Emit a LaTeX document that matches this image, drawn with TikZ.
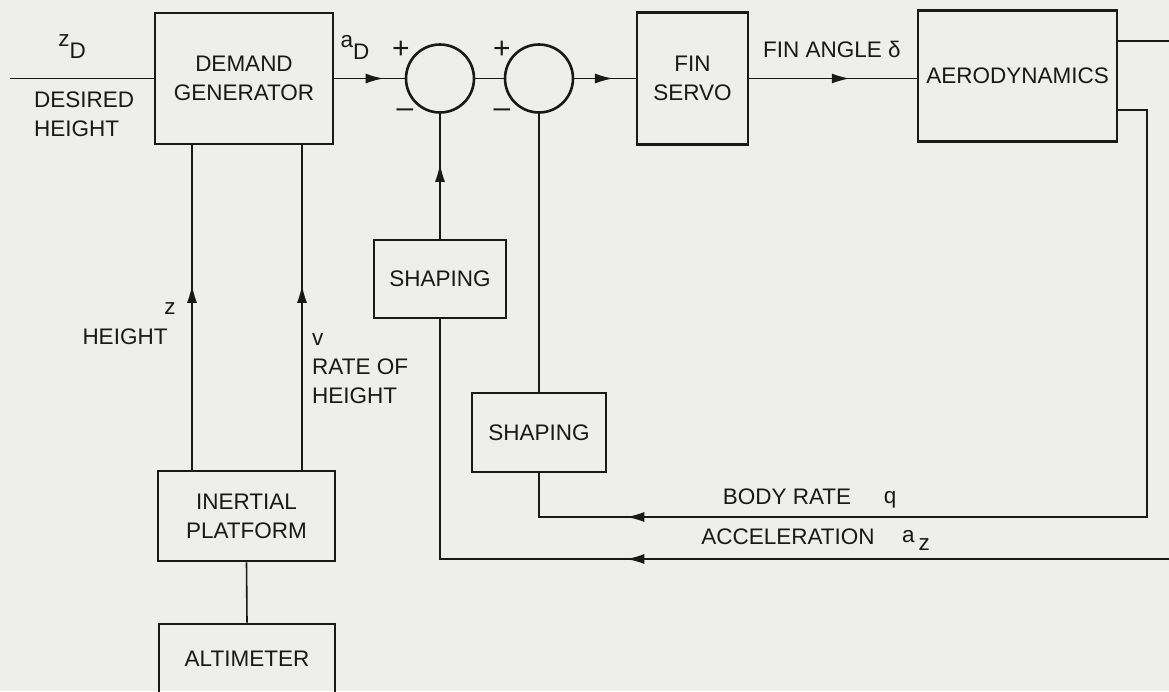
\documentclass[tikz,border=0pt]{standalone}
\usepackage{fontspec}
\setmainfont{Liberation Sans}
\usetikzlibrary{arrows.meta,decorations.markings}
\definecolor{paper}{RGB}{238,238,235}
\definecolor{ink}{RGB}{25,25,25}
\newcommand\dfont{\fontsize{22.5}{29}\selectfont}
\newcommand\sgnfont{\fontsize{30}{30}\selectfont}
\begin{document}
\begin{tikzpicture}[x=1pt,y=-1pt,
  every node/.style={text=ink,font=\dfont},
  blk/.style={draw=ink,line width=2.6pt,inner sep=0pt,align=center},
  sumj/.style={draw=ink,circle,line width=2.6pt,minimum size=68pt,inner sep=0pt},
  conn/.style={draw=ink,line width=1.6pt},
  midarr/.style={postaction={decorate},decoration={markings,mark=at position #1 with {\arrow[ink]{Latex[length=18pt,width=10pt]}}}},
  lbl/.style={inner sep=0pt,align=left},
  sgn/.style={inner sep=0pt,font=\sgnfont}
]
\fill[paper] (0,0) rectangle (1169,691);
\clip (0,0) rectangle (1169,691);

% blocks
\node[blk,minimum width=178pt,minimum height=131pt] (DG) at (244,78.5) {DEMAND\\GENERATOR};
\node[sumj] (S1) at (440,78.5) {};
\node[sumj] (S2) at (539,78.5) {};
\node[blk,minimum width=111pt,minimum height=132pt] (FS) at (692.5,78.5) {FIN\\SERVO};
\node[blk,minimum width=199pt,minimum height=131pt] (AERO) at (1017.5,76) {AERODYNAMICS};
\node[blk,minimum width=132pt,minimum height=78pt] (SH1) at (440,279) {SHAPING};
\node[blk,minimum width=134pt,minimum height=79pt] (SH2) at (539,432.5) {SHAPING};
\node[blk,minimum width=177pt,minimum height=90pt] (IP) at (246.5,516) {INERTIAL\\PLATFORM};
\node[blk,minimum width=176pt,minimum height=70pt] (ALT) at (247,659) {ALTIMETER};

% coordinates for free ends and corners
\coordinate (in) at (10,78.5);
\coordinate (outR) at (1180,41);
\coordinate (br1) at (1147,110);
\coordinate (br2) at (1147,517);
\coordinate (acc) at (1180,559);
\coordinate (hL) at (192,300);
\coordinate (hR) at (302,300);

% forward path
\draw[conn] (in) -- (DG.west);
\draw[conn,midarr=0.7] (DG.east) -- (S1.west);
\draw[conn] (S1.east) -- (S2.west);
\draw[conn,midarr=0.63] (S2.east) -- (FS.west);
\draw[conn,midarr=0.6] (FS.east) -- (AERO.west |- FS.east);
\draw[conn] (AERO.east |- outR) -- (outR);

% body rate feedback
\draw[conn,midarr=-131pt] (AERO.east |- br1) -- (br1) -- (br2) -- (SH2.south |- br2) -- (SH2.south);
\draw[conn] (SH2.north) -- (S2.south);

% acceleration feedback
\draw[conn,midarr=-426pt] (acc) -- (SH1.south |- acc) -- (SH1.south);
\draw[conn,midarr=0.6] (SH1.north) -- (S1.south);

% height measurements
\draw[conn,midarr=0.57] (IP.north -| hL) -- (DG.south -| hL);
\draw[conn,midarr=0.57] (IP.north -| hR) -- (DG.south -| hR);
\draw[conn] (IP.south) -- (ALT.north);

% labels
\node[lbl] (zD) at (72,47) {\raisebox{12pt}{z}D};
\node[lbl,anchor=west] (desH) at (34,114) {DESIRED\\HEIGHT};
\node[lbl] (aD) at (355,47) {\raisebox{12pt}{a}D};
\node[sgn] (p1) at (401,50) {+};
\node[sgn] (m1) at (405,113) {--};
\node[sgn] (p2) at (502,50) {+};
\node[sgn] (m2) at (502,113) {--};
\node[lbl] (fin) at (832,49) {FIN ANGLE δ};
\node[lbl] (zl) at (170,309) {z};
\node[lbl] (hl) at (125,337) {HEIGHT};
\node[lbl,anchor=north west] (vl) at (312,333) {v\\RATE OF\\HEIGHT};
\node[lbl] (brl) at (787,497) {BODY RATE};
\node[lbl] (ql) at (890,500) {q};
\node[lbl] (accl) at (788,537) {ACCELERATION};
\node[lbl] (azl) at (916,540) {a\kern4pt\raisebox{-8pt}{z}};
\end{tikzpicture}
\end{document}
